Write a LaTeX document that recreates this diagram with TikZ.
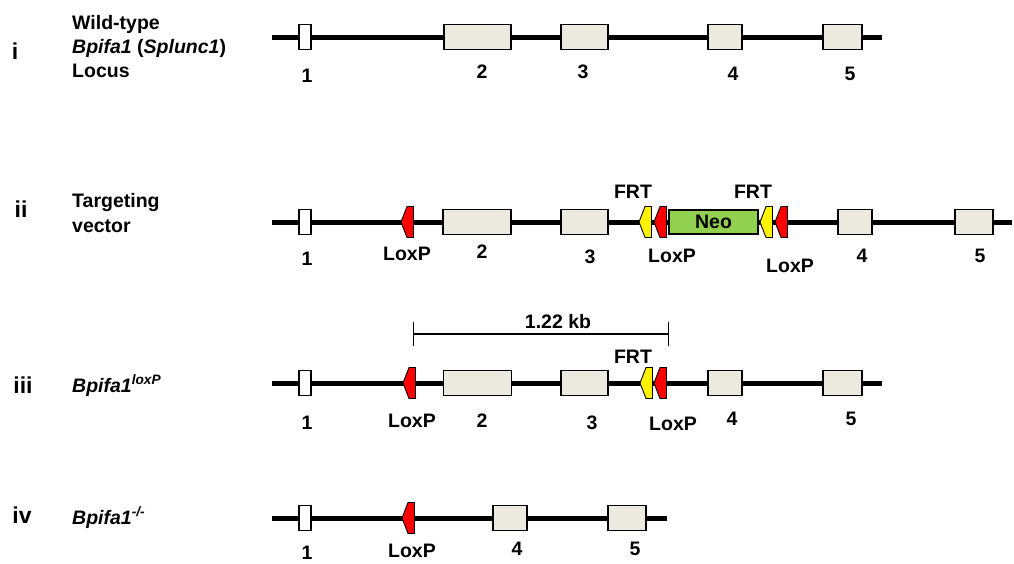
\documentclass[tikz,border=0pt]{standalone}
\usepackage{fontspec}
\setmainfont{Liberation Sans}
\usetikzlibrary{arrows.meta}
\definecolor{exonfill}{RGB}{236,233,223}
\definecolor{neogreen}{RGB}{146,208,80}
\tikzset{
  gene/.style={line width=5pt},
  exon/.style={draw, line width=1.4pt, fill=exonfill, minimum height=25pt, inner sep=0pt},
  exonone/.style={exon, fill=white, minimum width=12pt},
  lbl/.style={anchor=base, inner sep=0pt},
  rowno/.style={anchor=base, inner sep=0pt, font=\fontsize{23}{27}\selectfont\bfseries},
  rowtxt/.style={anchor=base west, inner sep=0pt},
  site/.pic={\draw[fill=#1, line width=0.9pt] (0,0) -- (6,-15.5) -- (12.5,-15.5) -- (12.5,15.5) -- (6,15.5) -- cycle;}
}
\begin{document}
\begin{tikzpicture}[x=1pt, y=-1pt, font=\fontsize{19.5}{23}\selectfont\bfseries]
  \useasboundingbox (0,0) rectangle (1014,563);
  % i: wild-type locus
  \coordinate (gi0) at (272,37);
  \coordinate (gi1) at (882,37);
  \draw[gene] (gi0) -- (gi1);
  \node[exonone] (ei1) at (305,37) {};
  \node[exon, minimum width=67pt] (ei2) at (477.5,37) {};
  \node[exon, minimum width=47pt] (ei3) at (584.5,37) {};
  \node[exon, minimum width=34pt] (ei4) at (725,37) {};
  \node[exon, minimum width=39pt] (ei5) at (842.5,37) {};
  \node[lbl] (ni1) at (307,82) {1};
  \node[lbl] (ni2) at (482,78) {2};
  \node[lbl] (ni3) at (583,78) {3};
  \node[lbl] (ni4) at (733,80) {4};
  \node[lbl] (ni5) at (850,80) {5};
  \node[rowno] (ri) at (15,59) {i};
  \node[rowtxt] (ti1) at (72,29) {Wild-type};
  \node[rowtxt] (ti2) at (72,53) {\textit{Bpifa1} (\textit{Splunc1})};
  \node[rowtxt] (ti3) at (72,77) {Locus};

  % ii: targeting vector
  \coordinate (gii0) at (272,222);
  \coordinate (gii1) at (1012,222);
  \draw[gene] (gii0) -- (gii1);
  \node[exonone] (eii1) at (305,222) {};
  \node[exon, minimum width=68pt] (eii2) at (477,222) {};
  \node[exon, minimum width=47pt] (eii3) at (584.5,222) {};
  \node[exon, minimum width=34pt] (eii4) at (855,222) {};
  \node[exon, minimum width=38pt] (eii5) at (974,222) {};
  \node[exon, fill=neogreen, minimum width=89pt, minimum height=24pt] (neo) at (713.5,222) {Neo};
  \pic at (401,222) {site=red};
  \pic at (639,222) {site=yellow};
  \pic at (654,222) {site=red};
  \pic at (760,222) {site=yellow};
  \pic at (775,222) {site=red};
  \node[lbl] (fii1) at (633,198) {FRT};
  \node[lbl] (fii2) at (753,198) {FRT};
  \node[lbl] (lii1) at (407,260) {LoxP};
  \node[lbl] (lii2) at (672,262) {LoxP};
  \node[lbl] (lii3) at (790,272) {LoxP};
  \node[lbl] (nii1) at (307,265) {1};
  \node[lbl] (nii2) at (482,258) {2};
  \node[lbl] (nii3) at (590,263) {3};
  \node[lbl] (nii4) at (862,262) {4};
  \node[lbl] (nii5) at (980,262) {5};
  \node[rowno] (rii) at (21,217) {ii};
  \node[rowtxt] (tii1) at (72,207) {Targeting};
  \node[rowtxt] (tii2) at (72,232) {vector};

  % iii: floxed allele
  \coordinate (kb0) at (413,334);
  \coordinate (kb1) at (669,334);
  \draw[line width=1.3pt, {Bar[width=24pt]}-{Bar[width=24pt]}] (kb0) -- (kb1);
  \node[lbl] (kb) at (558,328) {1.22 kb};
  \coordinate (giii0) at (272,383);
  \coordinate (giii1) at (882,383);
  \draw[gene] (giii0) -- (giii1);
  \node[exonone] (eiii1) at (305,383) {};
  \node[exon, minimum width=68pt] (eiii2) at (477.5,383) {};
  \node[exon, minimum width=47pt] (eiii3) at (584.5,383) {};
  \node[exon, minimum width=34pt] (eiii4) at (725,383) {};
  \node[exon, minimum width=39pt] (eiii5) at (842.5,383) {};
  \pic at (403,383) {site=red};
  \pic at (640,383) {site=yellow};
  \pic at (654,383) {site=red};
  \node[lbl] (fiii) at (633,363) {FRT};
  \node[lbl] (liii1) at (412,427) {LoxP};
  \node[lbl] (liii2) at (673,430) {LoxP};
  \node[lbl] (niii1) at (307,429) {1};
  \node[lbl] (niii2) at (482,427) {2};
  \node[lbl] (niii3) at (592,429) {3};
  \node[lbl] (niii4) at (732,425) {4};
  \node[lbl] (niii5) at (851,425) {5};
  \node[rowno] (riii) at (23,393) {iii};
  \node[rowtxt] (tiii) at (72,392) {\textit{Bpifa1\textsuperscript{loxP}}};

  % iv: knockout allele
  \coordinate (giv0) at (272,518);
  \coordinate (giv1) at (667,518);
  \draw[gene] (giv0) -- (giv1);
  \node[exonone] (eiv1) at (305,518) {};
  \node[exon, minimum width=34pt] (eiv4) at (510,518) {};
  \node[exon, minimum width=38pt] (eiv5) at (627,518) {};
  \pic at (402,518) {site=red};
  \node[lbl] (liv) at (412,557) {LoxP};
  \node[lbl] (niv1) at (307,559) {1};
  \node[lbl] (niv4) at (517,555) {4};
  \node[lbl] (niv5) at (635,555) {5};
  \node[rowno] (riv) at (22,523) {iv};
  \node[rowtxt] (tiv) at (72,524) {\textit{Bpifa1\textsuperscript{-/-}}};
\end{tikzpicture}
\end{document}
